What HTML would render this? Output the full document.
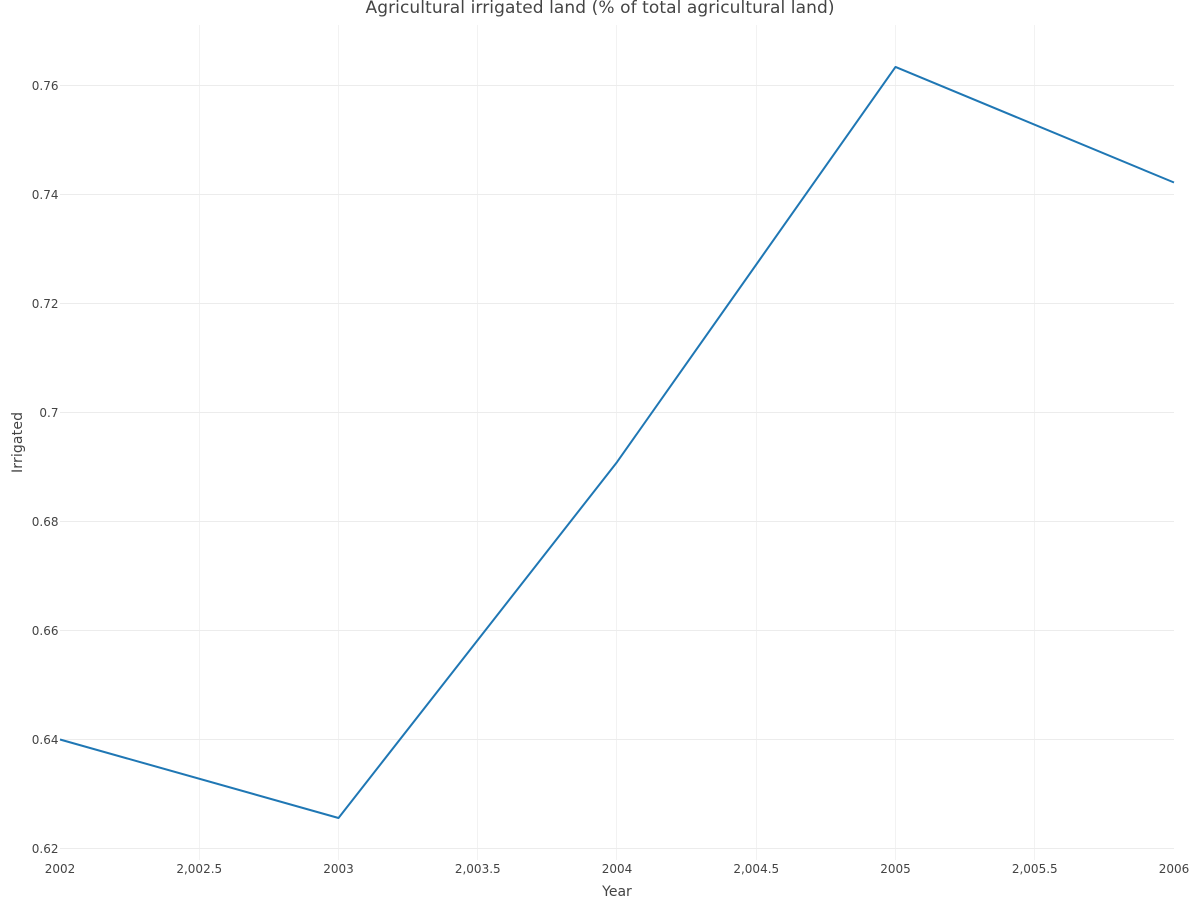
<!DOCTYPE html>
<html lang="en">
<head>
<meta charset="utf-8">
<title>Agricultural irrigated land</title>
<style>
html,body{margin:0;padding:0;background:#fff;width:1200px;height:900px;overflow:hidden}
svg{display:block;font-family:"DejaVu Sans",sans-serif}
</style>
</head>
<body>
<svg id="chart" xmlns="http://www.w3.org/2000/svg" width="1200" height="900" viewBox="0 0 1200 900">
<rect x="0" y="0" width="1200" height="900" fill="#fff"/>
<g id="grid"></g>
<path id="line" fill="none" stroke="#1f77b4" stroke-width="2" stroke-linejoin="round"/>
<g id="xticks"></g>
<g id="yticks"></g>
<text x="365.5" y="13" font-size="17" fill="#444" textLength="469" lengthAdjust="spacing">Agricultural irrigated land (% of total agricultural land)</text>
<text x="617" y="896" text-anchor="middle" font-size="14" fill="#444">Year</text>
<text transform="translate(22 473) rotate(-90)" font-size="14" fill="#444" textLength="61" lengthAdjust="spacing">Irrigated</text>
</svg>
<script>
const years = [2002, 2003, 2004, 2005, 2006];
const irrigated = [0.64, 0.6256, 0.6909, 0.7634, 0.7422];
const xTickValues = [2002, 2002.5, 2003, 2003.5, 2004, 2004.5, 2005, 2005.5, 2006];
const xTickLabels = ["2002", "2,002.5", "2003", "2,003.5", "2004", "2,004.5", "2005", "2,005.5", "2006"];
const yTickValues = [0.62, 0.64, 0.66, 0.68, 0.7, 0.72, 0.74, 0.76];
const yTickLabels = ["0.62", "0.64", "0.66", "0.68", "0.7", "0.72", "0.74", "0.76"];

const plotLeft = 60, plotRight = 1174, plotTop = 25, plotBottom = 860;
const NS = "http://www.w3.org/2000/svg";
function xScale(v) { return plotLeft + (v - 2002) / 4 * (plotRight - plotLeft); }
function yScale(v) { return 848.5 - (v - 0.62) / 0.02 * 109; }
function make(tag, attrs, parent) {
  const el = document.createElementNS(NS, tag);
  for (const k in attrs) el.setAttribute(k, attrs[k]);
  parent.appendChild(el);
  return el;
}
const grid = document.getElementById("grid");
const xticks = document.getElementById("xticks");
const yticks = document.getElementById("yticks");

xTickValues.forEach(function (v, i) {
  const x = Math.floor(xScale(v) - 0.1) + 0.5;
  if (i > 0 && i < xTickValues.length - 1) {
    const g = make("line", {x1: x, x2: x, y1: plotTop, y2: plotBottom, stroke: "#f2f2f2", "stroke-width": 1}, grid);
    
    
  }
  const t = make("text", {x: xScale(v), y: 873, "text-anchor": "middle", "font-size": 12, fill: "#444"}, xticks);
  
  
  t.textContent = xTickLabels[i];
});

yTickValues.forEach(function (v, i) {
  const y = Math.floor(yScale(v)) + 0.5;
  const g = make("line", {x1: plotLeft, x2: plotRight, y1: y, y2: y, stroke: "#ececec", "stroke-width": 1}, grid);
  
  
  const t = make("text", {x: 58.5, y: yScale(v) + 4.5, "text-anchor": "end", "font-size": 12, fill: "#444"}, yticks);
  
  
  t.textContent = yTickLabels[i];
});

document.getElementById("line").setAttribute("d", years.map(function (yr, i) {
  return (i ? "L" : "M") + xScale(yr).toFixed(2) + " " + yScale(irrigated[i]).toFixed(2);
}).join(""));
</script>
</body>
</html>
